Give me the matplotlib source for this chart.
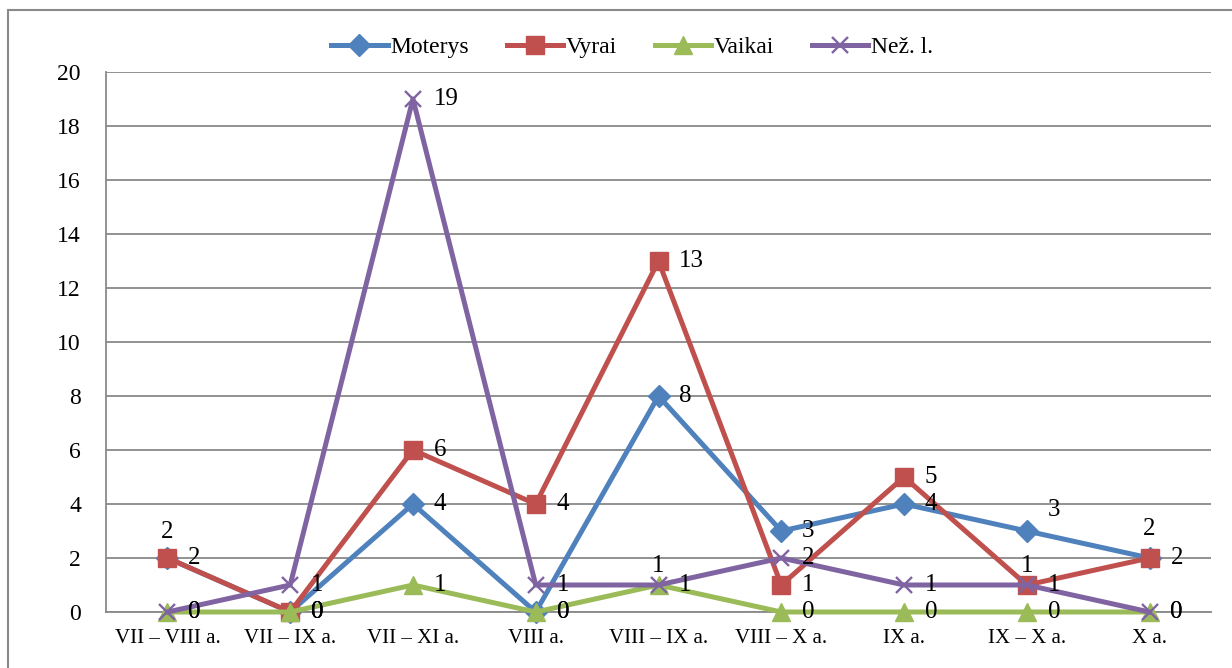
import numpy as np
import matplotlib
matplotlib.use("Agg")
import matplotlib.pyplot as plt
from matplotlib.patches import Rectangle

plt.rcParams['font.family'] = ['Liberation Serif', 'DejaVu Serif']

categories = ["VII – VIII a.", "VII – IX a.", "VII – XI a.", "VIII a.", "VIII – IX a.",
              "VIII – X a.", "IX a.", "IX – X a.", "X a."]
moterys = [2, 0, 4, 0, 8, 3, 4, 3, 2]
vyrai = [2, 0, 6, 4, 13, 1, 5, 1, 2]
vaikai = [0, 0, 1, 0, 1, 0, 0, 0, 0]
nez_l = [0, 1, 19, 1, 1, 2, 1, 1, 0]

series = [
    ("Moterys", moterys, "#4F81BD", "D", 11),
    ("Vyrai", vyrai, "#C0504D", "s", 12.5),
    ("Vaikai", vaikai, "#9BBB59", "^", 12.5),
    ("Než. l.", nez_l, "#8064A2", "x", 12),
]

# labels that Excel moved off the default "right" spot: (series, index) -> offset in points
label_moves = {
    ("Moterys", 0): (0, 19),
    ("Moterys", 8): (0, 21),
    ("Moterys", 7): (15, 15),
    ("Vaikai", 4): (0, 14),
    ("Vyrai", 7): (0, 14),
}


def draw_chart():
    fig = plt.figure(figsize=(12.32, 6.68), dpi=100)
    ax = fig.add_axes([106 / 1232, 1 - 612 / 668, (1211 - 106) / 1232, (612 - 72) / 668])

    x = np.arange(len(categories))
    for name, vals, col, mk, ms in series:
        if mk == "x":
            ax.plot(x, vals, color=col, lw=3.6, marker=mk, ms=ms, mew=1.7,
                    label=name, clip_on=False, zorder=3)
        else:
            ax.plot(x, vals, color=col, lw=3.6, marker=mk, ms=ms, mec=col,
                    label=name, clip_on=False, zorder=3)
        for i, v in enumerate(vals):
            dx, dy = label_moves.get((name, i), (15, 0))
            ha = "center" if dx == 0 else "left"
            ax.annotate(str(v), (i, v), xytext=(dx, dy), textcoords="offset points",
                        ha=ha, va="center", fontsize=18, zorder=4)

    ax.set_xlim(-0.5, len(categories) - 0.5)
    ax.set_ylim(0, 20)
    ax.set_yticks(np.arange(0, 21, 2))
    ax.set_xticks(x)
    ax.set_xticklabels(categories, fontsize=15)
    ax.tick_params(axis="y", length=0, pad=18, labelsize=17)
    ax.tick_params(axis="x", length=0, pad=12)
    ax.grid(axis="y", color="#898989", lw=1.3)
    ax.set_axisbelow(True)
    for s in ["top", "right"]:
        ax.spines[s].set_visible(False)
    for s in ["left", "bottom"]:
        ax.spines[s].set_color("#898989")
        ax.spines[s].set_linewidth(1.3)

    fig.legend(loc="center", bbox_to_anchor=(632 / 1232, 1 - 47 / 668), ncol=4,
               frameon=False, fontsize=17, handlelength=2.4, handletextpad=0.1,
               columnspacing=1.6)

    fig.patches.append(Rectangle((8 / 1232, -0.1), 1.2, 0.1 + (1 - 10 / 668),
                                 transform=fig.transFigure, fill=False,
                                 edgecolor="#898989", lw=1.5))

    fig.savefig("out.png", dpi=100)


if __name__ == '__main__':
    draw_chart()
